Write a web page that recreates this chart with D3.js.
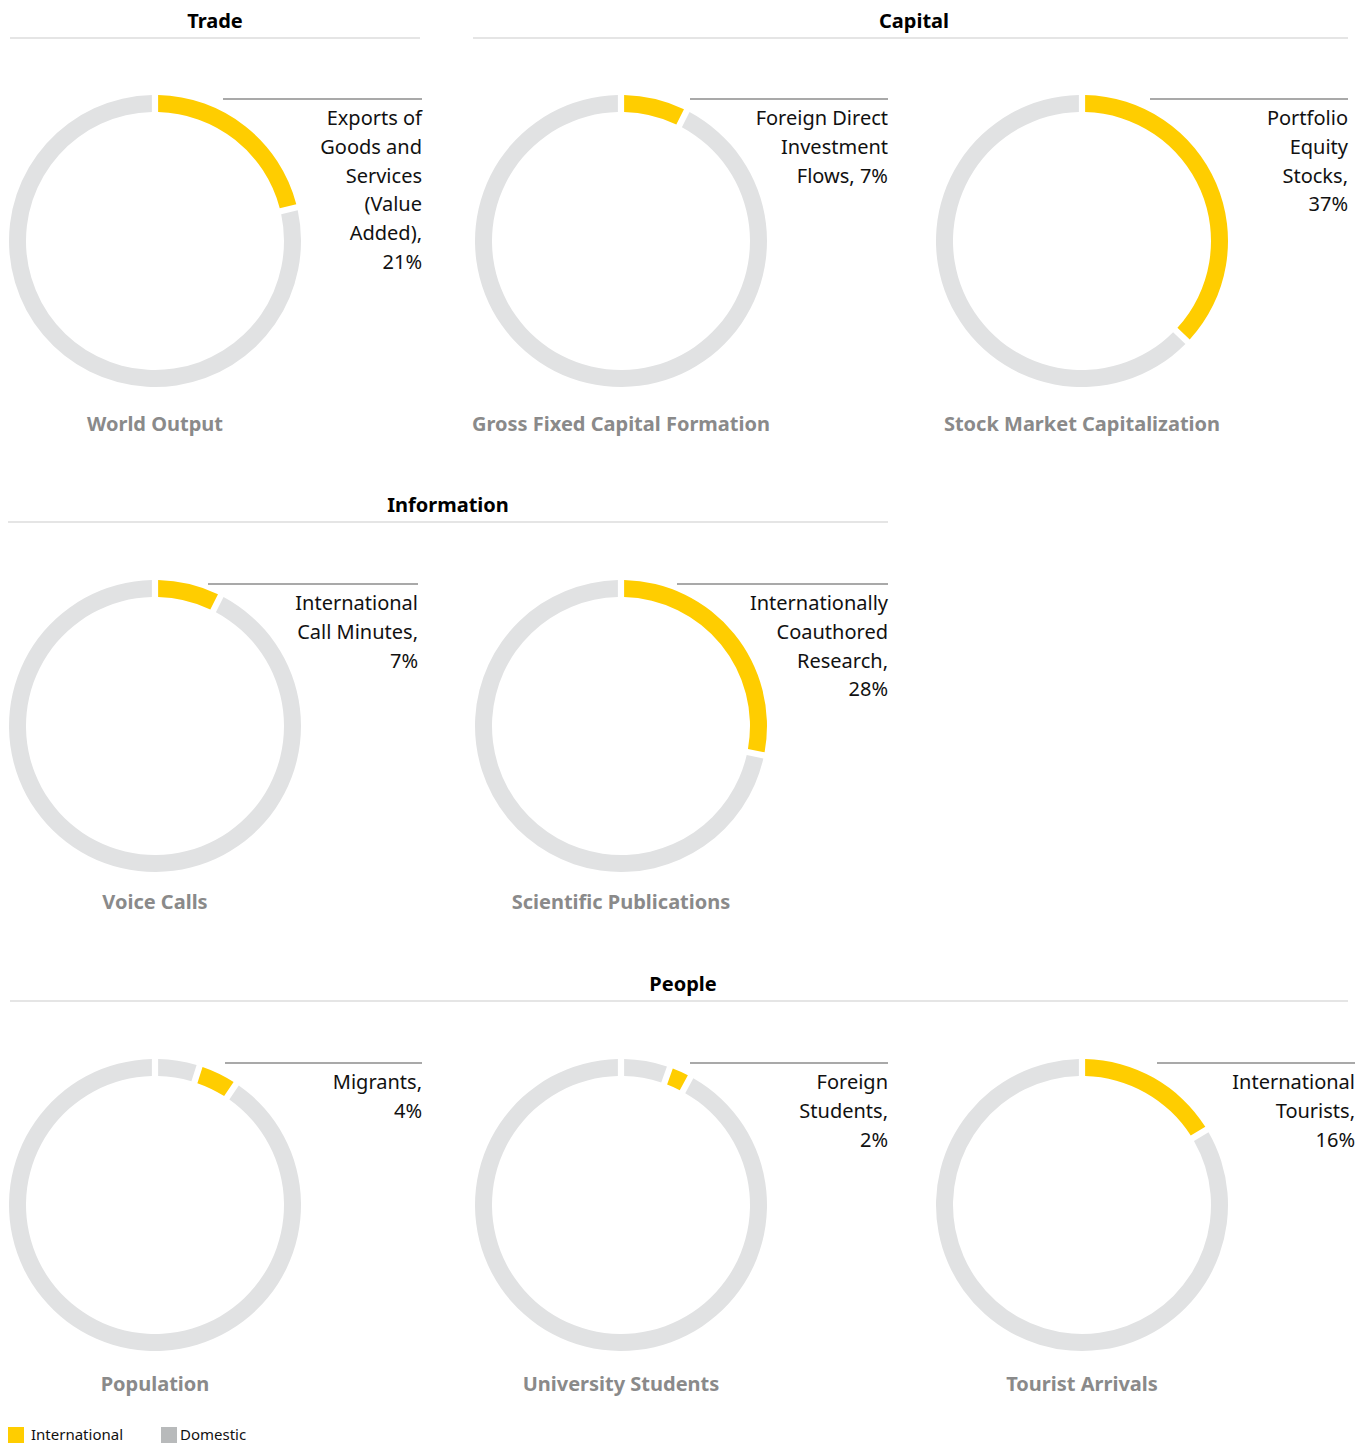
<!DOCTYPE html>
<html lang="en">
<head>
<meta charset="UTF-8">
<title>International share of flows</title>
<style>
    html, body { margin: 0; padding: 0; background: #fff; }
    svg { display: block; font-family: "Noto Sans", sans-serif; }
    .section-title { font-size: 20px; font-weight: bold; fill: #000; text-anchor: middle; }
    .section-rule { stroke: #dcdcdc; stroke-width: 1.5px; }
    .label-rule { stroke: #555; stroke-width: 1.2px; }
    .intl-label { font-size: 20px; fill: #111; text-anchor: end; }
    .chart-name { font-size: 20px; font-weight: bold; fill: #8a8a8a; text-anchor: middle; }
    .legend text { font-size: 15px; fill: #111; }
</style>
<script src="https://cdn.jsdelivr.net/npm/d3@7"></script>
</head>
<body>
<svg width="1370" height="1443"></svg>
<script>
// --- data ---
var sectionNames = ["Trade", "Capital", "Information", "People"];
var chartNames = ["World Output", "Gross Fixed Capital Formation", "Stock Market Capitalization",
    "Voice Calls", "Scientific Publications",
    "Population", "University Students", "Tourist Arrivals"];
var internationalShare = [21, 7, 37, 7, 28, 4, 2, 16];
// domestic share drawn before the international slice (small slices are nudged off the top)
var leadingDomestic = [0, 0, 0, 0, 0, 4.5, 5, 0];
var intlLabels = [
    ["Exports of", "Goods and", "Services", "(Value", "Added),", "21%"],
    ["Foreign Direct", "Investment", "Flows, 7%"],
    ["Portfolio", "Equity", "Stocks,", "37%"],
    ["International", "Call Minutes,", "7%"],
    ["Internationally", "Coauthored", "Research,", "28%"],
    ["Migrants,", "4%"],
    ["Foreign", "Students,", "2%"],
    ["International", "Tourists,", "16%"]
];
var legendKeys = ["International", "Domestic"];

// --- layout ---
var svg = d3.select("svg");
var colX = [155, 621, 1082];
var rowY = [241, 726, 1205];
var nameOffset = [190, 183, 186];
var chartCell = [[0, 0], [1, 0], [2, 0], [0, 1], [1, 1], [0, 2], [1, 2], [2, 2]];
var labelRight = [422, 888, 1348, 418, 888, 422, 888, 1355];
var ruleStart = [68, 69, 68, 53, 56, 70, 69, 75];
var outerR = 146, innerR = 129;

var sectionLayout = {
    "Trade":       { x0: 10,  x1: 420,  y: 38,   tx: 215 },
    "Capital":     { x0: 473, x1: 1348, y: 38,   tx: 914 },
    "Information": { x0: 8,   x1: 888,  y: 522,  tx: 448 },
    "People":      { x0: 10,  x1: 1348, y: 1001, tx: 683 }
};

var color = d3.scaleOrdinal()
    .domain(["International", "Domestic"])
    .range(["#ffcd00", "#e1e2e3"]);
var legendColor = d3.scaleOrdinal()
    .domain(legendKeys)
    .range(["#ffcd00", "#b8babb"]);

// section headings
sectionNames.forEach(function(name) {
    var s = sectionLayout[name];
    svg.append("text")
        .attr("class", "section-title")
        .attr("x", s.tx)
        .attr("y", s.y - 10)
        .text(name);
    svg.append("line")
        .attr("class", "section-rule")
        .attr("x1", s.x0).attr("x2", s.x1)
        .attr("y1", s.y).attr("y2", s.y);
});

var pie = d3.pie()
    .sort(null)
    .value(function(d) { return d.value; })
    .padAngle(0.032);

var arc = d3.arc()
    .innerRadius(innerR)
    .outerRadius(outerR);

chartNames.forEach(function(name, i) {
    var row = chartCell[i][1];
    var cx = colX[chartCell[i][0]], cy = rowY[row];
    var slices = [
        { type: "Domestic", value: leadingDomestic[i] },
        { type: "International", value: internationalShare[i] },
        { type: "Domestic", value: 100 - internationalShare[i] - leadingDomestic[i] }
    ].filter(function(d) { return d.value > 0; });

    var g = svg.append("g")
        .attr("transform", "translate(" + cx + "," + cy + ")");

    g.selectAll("path")
        .data(pie(slices))
        .enter().append("path")
        .attr("d", arc)
        .attr("fill", function(d) { return color(d.data.type); });

    // label rule and right-aligned text
    var top = cy - outerR;
    svg.append("line")
        .attr("class", "label-rule")
        .attr("x1", cx + ruleStart[i]).attr("x2", labelRight[i])
        .attr("y1", top + 4).attr("y2", top + 4);

    var txt = svg.append("text")
        .attr("class", "intl-label")
        .attr("x", labelRight[i])
        .attr("y", top + 30);
    intlLabels[i].forEach(function(line, k) {
        txt.append("tspan")
            .attr("x", labelRight[i])
            .attr("dy", k === 0 ? 0 : 28.8)
            .text(line);
    });

    svg.append("text")
        .attr("class", "chart-name")
        .attr("x", cx)
        .attr("y", cy + nameOffset[row])
        .text(name);
});

// legend
var legend = svg.append("g").attr("class", "legend");
var legendX = [8, 161];
legendKeys.forEach(function(k, i) {
    legend.append("rect")
        .attr("x", legendX[i]).attr("y", 1427)
        .attr("width", 16).attr("height", 16)
        .attr("fill", legendColor(k));
    legend.append("text")
        .attr("x", legendX[i] + (i === 0 ? 23 : 19))
        .attr("y", 1440)
        .text(k);
});
</script>
</body>
</html>
